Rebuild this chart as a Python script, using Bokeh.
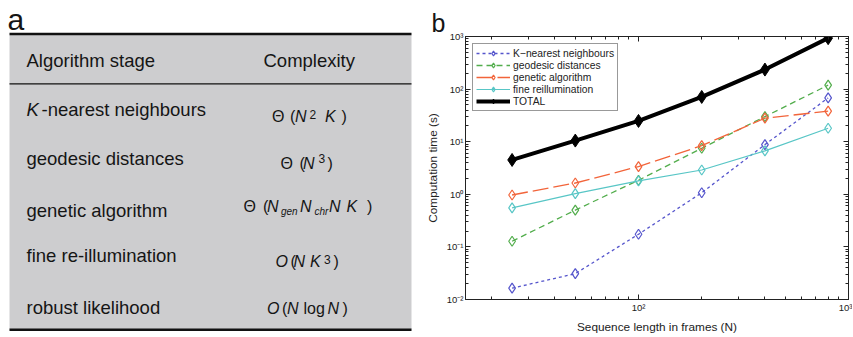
from bokeh.plotting import figure
from bokeh.models import (Range1d, FixedTicker, LogAxis, CustomJSTickFormatter)
from bokeh.layouts import row, column
from bokeh.embed import file_html
from bokeh.resources import INLINE
from bokeh.core.properties import value

# ---------------- data ----------------
# panel a: table
header_stage = "Algorithm stage"
header_complexity = "Complexity"
stage_labels = ["-nearest neighbours", "geodesic distances", "genetic algorithm",
                "fine re-illumination", "robust likelihood"]
stage_prefix = ["K", "", "", "", ""]

# formula pieces: (text, kind) kind: n=normal, i=italic, sup=superscript, sub=italic subscript
formulas = [
    [("Θ", "n"), ("(", "n"), ("N", "i"), ("2", "sup"), ("K", "i"), (")", "n")],
    [("Θ", "n"), ("(", "n"), ("N", "i"), ("3", "sup"), (")", "n")],
    [("Θ", "n"), ("(", "n"), ("N", "i"), ("gen", "sub"), ("N", "i"), ("chr", "sub"),
     ("N", "i"), ("K", "i"), (")", "n")],
    [("O", "i"), ("(", "n"), ("N", "i"), ("K", "i"), ("3", "sup"), (")", "n")],
    [("O", "i"), ("(", "n"), ("N", "i"), ("log", "n"), ("N", "i"), (")", "n")],
]

# panel b: computation times
frames = [25, 50, 100, 200, 400, 800]
knn = [0.0164, 0.031, 0.174, 1.07, 8.8, 68]
geodesic = [0.128, 0.50, 1.85, 7.5, 30, 119]
genetic = [0.97, 1.64, 3.37, 8.4, 28, 38]
fine = [0.55, 1.03, 1.8, 2.9, 6.7, 18]
total = [4.5, 10.5, 24.8, 71, 235, 930]
series_names = ["K\u2212nearest neighbours", "geodesic distances", "genetic algorithm",
                "fine reillumination", "TOTAL"]
x_major = [100, 1000]
x_minor = [20, 30, 40, 50, 60, 70, 80, 90, 200, 300, 400, 500, 600, 700, 800, 900]
y_major = [0.01, 0.1, 1, 10, 100, 1000]
y_minor = [m * 10.0 ** e for e in range(-2, 3) for m in range(2, 10)]

FONT = "Liberation Sans"
H = 336
K_BASE = 0.36  # bokeh places 'alphabetic' text ~0.36em lower; compensate

# ---------------- panel a ----------------
pa = figure(width=420, height=H, x_range=Range1d(0, 420), y_range=Range1d(H, 0),
            output_backend="svg", toolbar_location=None, min_border=0,
            x_axis_location=None, y_axis_location=None)
pa.title.visible = False
pa.grid.visible = False
pa.outline_line_color = None

pa.quad(left=[9], right=[411], top=[34.5], bottom=[329], fill_color="#cdcdcf", line_color=None)
pa.segment(x0=[9], x1=[411], y0=[33.5], y1=[33.5], line_color="#111111", line_width=2.4)
pa.segment(x0=[9], x1=[411], y0=[83.3], y1=[83.3], line_color="#111111", line_width=1.3)
pa.segment(x0=[9], x1=[411], y0=[329.3], y1=[329.3], line_color="#111111", line_width=2.4)

def txt(p, x, y, s, size, style="normal", color="#151515"):
    y = y - K_BASE * size
    p.text(x=[x], y=[y], text=[s], text_font=value(FONT), text_font_size=f"{size}px",
           text_font_style=style, text_align="left", text_baseline="alphabetic",
           text_color=color)

txt(pa, 7, 29.5, "a", 30)
txt(pa, 26, 66.5, header_stage, 18.5)
txt(pa, 263, 66.5, header_complexity, 18.5)

row_baselines = [115.7, 165, 217, 261.7, 313.3]
for pre, lab, yb in zip(stage_prefix, stage_labels, row_baselines):
    if pre:
        txt(pa, 26, yb, pre, 18.5, "italic")
        txt(pa, 41, yb, lab, 18.5)
    else:
        txt(pa, 26, yb, lab, 18.5)

FS = 16
formula_baselines = [121.5, 169, 211.5, 266.5, 313.5]
sup_raise = [3.5, 6.5, 0, 3, 0]
formula_x = [
    [271.5, 289.5, 294.5, 309, 324.5, 341],
    [280, 299, 302.5, 318, 327],
    [243, 262.5, 266.5, 280.5, 299.5, 314, 328.5, 346, 366.5],
    [275, 290, 293, 309.5, 323.5, 333],
    [266.5, 281.5, 286.5, 303, 327, 342],
]
for pieces, xs, yb, sr in zip(formulas, formula_x, formula_baselines, sup_raise):
    for (s, kind), x in zip(pieces, xs):
        if kind == "n":
            txt(pa, x, yb, s, FS)
        elif kind == "i":
            txt(pa, x, yb, s, FS, "italic")
        elif kind == "sup":
            txt(pa, x, yb - sr, s, 12)
        else:
            txt(pa, x, yb + 3, s, 10, "italic")

# ---------------- panel b ----------------
pb = figure(width=432, height=H, x_axis_type="log", y_axis_type="log",
            x_range=Range1d(15, 1000), y_range=Range1d(0.01, 1000),
            output_backend="svg", toolbar_location=None, title="b",
            min_border_left=45, min_border_right=4, min_border_top=36, min_border_bottom=36)
pb.title.text_font = FONT
pb.title.text_font_size = "25px"
pb.title.text_font_style = "normal"
pb.title.text_color = "#151515"
pb.title.align = "left"
pb.title.offset = -34
pb.title.standoff = 0
pb.grid.visible = False
pb.outline_line_color = "#222222"
pb.outline_line_width = 1

sup_fmt = CustomJSTickFormatter(code="""
const sup = {"-": "\u207b", "0": "\u2070", "1": "\u00b9", "2": "\u00b2", "3": "\u00b3"};
const e = Math.round(Math.log10(tick));
return "10" + String(e).split("").map(c => sup[c]).join("");
""")
blank_fmt = CustomJSTickFormatter(code="return '';")

def style_axis(ax, labels=True):
    ax.major_tick_in = 5
    ax.major_tick_out = 0
    ax.minor_tick_in = 3
    ax.minor_tick_out = 0
    ax.axis_line_color = "#222222"
    ax.major_tick_line_color = "#222222"
    ax.minor_tick_line_color = "#222222"
    ax.major_label_text_font = FONT
    ax.major_label_text_font_size = "9.5px"
    ax.major_label_text_color = "#222222"
    ax.major_label_standoff = 2
    ax.axis_label_text_font = FONT
    ax.axis_label_text_font_size = "11.8px"
    ax.axis_label_text_font_style = "normal"
    ax.axis_label_text_color = "#222222"
    ax.axis_label_standoff = 4
    ax.formatter = sup_fmt if labels else blank_fmt

xt = FixedTicker(ticks=x_major, minor_ticks=x_minor)
yt = FixedTicker(ticks=y_major, minor_ticks=y_minor)
pb.xaxis.ticker = xt
pb.yaxis.ticker = yt
pb.xaxis.axis_label = "Sequence length in frames (N)"
pb.yaxis.axis_label = "Computation time (s)"
style_axis(pb.xaxis[0])
style_axis(pb.yaxis[0])
ax_top = LogAxis(ticker=FixedTicker(ticks=x_major, minor_ticks=x_minor))
ax_right = LogAxis(ticker=FixedTicker(ticks=y_major, minor_ticks=y_minor))
style_axis(ax_top, labels=False)
style_axis(ax_right, labels=False)
ax_top.major_label_standoff = 0
ax_right.major_label_standoff = 0
pb.add_layout(ax_top, "above")
pb.add_layout(ax_right, "right")

colors = ["#5555cc", "#52ad4c", "#f2643a", "#58c6c6", "#000000"]
dashes = ["3 3", "6 4", "16 5", "solid", "solid"]
widths = [1.3, 1.3, 1.3, 1.2, 4]
all_series = [knn, geodesic, genetic, fine, total]
for name, ys, c, d, w in zip(series_names, all_series, colors, dashes, widths):
    pb.line(frames, ys, line_color=c, line_dash=d, line_width=w, legend_label=name)
    if name == "TOTAL":
        pb.scatter(frames, ys, marker="diamond", size=13, fill_color="black",
                   line_color="black", line_width=1, legend_label=name)
    else:
        pb.scatter(frames, ys, marker="diamond", size=10, fill_color=None,
                   line_color=c, line_width=1.2, legend_label=name)

lg = pb.legend[0]
lg.location = "top_left"
lg.margin = 7
lg.padding = 3
lg.spacing = 0
lg.label_height = 12
lg.glyph_height = 12
lg.glyph_width = 34
lg.label_standoff = 3
lg.label_text_font = FONT
lg.label_text_font_size = "10.3px"
lg.label_text_color = "#222222"
lg.border_line_color = "#333333"
lg.border_line_width = 1
lg.background_fill_alpha = 1

layout = row(column(pa), column(pb))
open("out.html", "w").write(file_html(layout, INLINE))
